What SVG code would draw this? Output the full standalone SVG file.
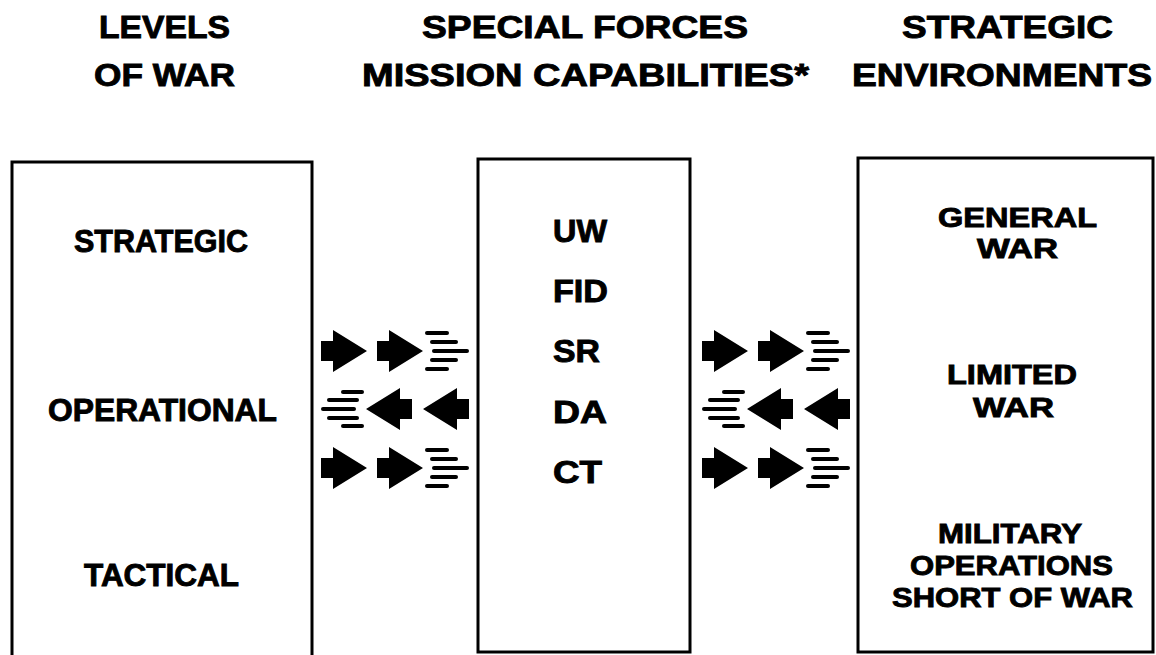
<svg xmlns="http://www.w3.org/2000/svg" xmlns:xlink="http://www.w3.org/1999/xlink" width="1156" height="655" viewBox="0 0 1156 655">
<style>
  .t { font-family: "Liberation Sans", Arial, Helvetica, sans-serif; font-weight: bold; font-size: 31px; fill: #000; stroke: #000; stroke-width: 0.9; }
  .h { font-size: 32px; }
  .s { font-size: 28px; }
  .box { fill: #fff; stroke: #000; stroke-width: 3; }
  .arr { fill: #000; }
  .sl { stroke: #000; stroke-width: 4; stroke-linecap: round; fill: none; }
</style>
<defs>
  <path id="ar" class="arr" d="M0,-10 L12,-10 L12,-21 L46,0 L12,21 L12,10 L0,10 Z"/>
  <path id="al" class="arr" d="M0,0 L34,-21 L34,-10 L46,-10 L46,10 L34,10 L34,21 Z"/>
  <g id="slr">
    <line class="sl" x1="1" y1="-18" x2="21" y2="-18"/>
    <line class="sl" x1="6" y1="-9" x2="30" y2="-9"/>
    <line class="sl" x1="8" y1="0" x2="41" y2="0"/>
    <line class="sl" x1="6" y1="9" x2="30" y2="9"/>
    <line class="sl" x1="1" y1="18" x2="21" y2="18"/>
  </g>
  <g id="sll">
    <line class="sl" x1="21" y1="-17" x2="40" y2="-17"/>
    <line class="sl" x1="7" y1="-9" x2="35" y2="-9"/>
    <line class="sl" x1="1" y1="0" x2="32" y2="0"/>
    <line class="sl" x1="7" y1="9" x2="35" y2="9"/>
    <line class="sl" x1="21" y1="17" x2="40" y2="17"/>
  </g>
  <g id="rowR">
    <use xlink:href="#ar" x="0"/>
    <use xlink:href="#ar" x="56"/>
    <use xlink:href="#slr" x="105"/>
  </g>
  <g id="rowL">
    <use xlink:href="#sll" x="0"/>
    <use xlink:href="#al" x="44"/>
    <use xlink:href="#al" x="101"/>
  </g>
</defs>
<rect width="1156" height="655" fill="#fff"/>

<g id="headers">
  <text class="t h" x="99" y="38" textLength="131" lengthAdjust="spacingAndGlyphs">LEVELS</text>
  <text class="t h" x="94" y="86" textLength="141" lengthAdjust="spacingAndGlyphs">OF WAR</text>
  <text class="t h" x="422" y="38" textLength="326" lengthAdjust="spacingAndGlyphs">SPECIAL FORCES</text>
  <text class="t h" x="362" y="86" textLength="447" lengthAdjust="spacingAndGlyphs">MISSION CAPABILITIES*</text>
  <text class="t h" x="902" y="38" textLength="211" lengthAdjust="spacingAndGlyphs">STRATEGIC</text>
  <text class="t h" x="852" y="86" textLength="300" lengthAdjust="spacingAndGlyphs">ENVIRONMENTS</text>
</g>

<g id="levels-of-war">
  <rect class="box" x="12" y="162" width="300" height="520"/>
  <text class="t" x="74" y="252" textLength="174" lengthAdjust="spacingAndGlyphs">STRATEGIC</text>
  <text class="t" x="48" y="421" textLength="229" lengthAdjust="spacingAndGlyphs">OPERATIONAL</text>
  <text class="t" x="84" y="586" textLength="155" lengthAdjust="spacingAndGlyphs">TACTICAL</text>
</g>

<g id="mission-capabilities">
  <rect class="box" x="478" y="159" width="212" height="493"/>
  <text class="t" x="553" y="242" textLength="54" lengthAdjust="spacingAndGlyphs">UW</text>
  <text class="t" x="553" y="302" textLength="55" lengthAdjust="spacingAndGlyphs">FID</text>
  <text class="t" x="553" y="362" textLength="47" lengthAdjust="spacingAndGlyphs">SR</text>
  <text class="t" x="553" y="423" textLength="54" lengthAdjust="spacingAndGlyphs">DA</text>
  <text class="t" x="553" y="483" textLength="49" lengthAdjust="spacingAndGlyphs">CT</text>
</g>

<g id="strategic-environments">
  <rect class="box" x="858" y="158" width="295" height="494"/>
  <text class="t s" x="938" y="227" textLength="159" lengthAdjust="spacingAndGlyphs">GENERAL</text>
  <text class="t s" x="977" y="258" textLength="81" lengthAdjust="spacingAndGlyphs">WAR</text>
  <text class="t s" x="947" y="384" textLength="130" lengthAdjust="spacingAndGlyphs">LIMITED</text>
  <text class="t s" x="973" y="417" textLength="81" lengthAdjust="spacingAndGlyphs">WAR</text>
  <text class="t s" x="938" y="543" textLength="144" lengthAdjust="spacingAndGlyphs">MILITARY</text>
  <text class="t s" x="910" y="575" textLength="203" lengthAdjust="spacingAndGlyphs">OPERATIONS</text>
  <text class="t s" x="892" y="607" textLength="241" lengthAdjust="spacingAndGlyphs">SHORT OF WAR</text>
</g>

<g id="connectors">
  <use xlink:href="#rowR" x="321" y="351"/>
  <use xlink:href="#rowL" x="322" y="409"/>
  <use xlink:href="#rowR" x="321" y="468"/>
  <use xlink:href="#rowR" x="702" y="351"/>
  <use xlink:href="#rowL" x="703" y="409"/>
  <use xlink:href="#rowR" x="702" y="468"/>
</g>
</svg>
